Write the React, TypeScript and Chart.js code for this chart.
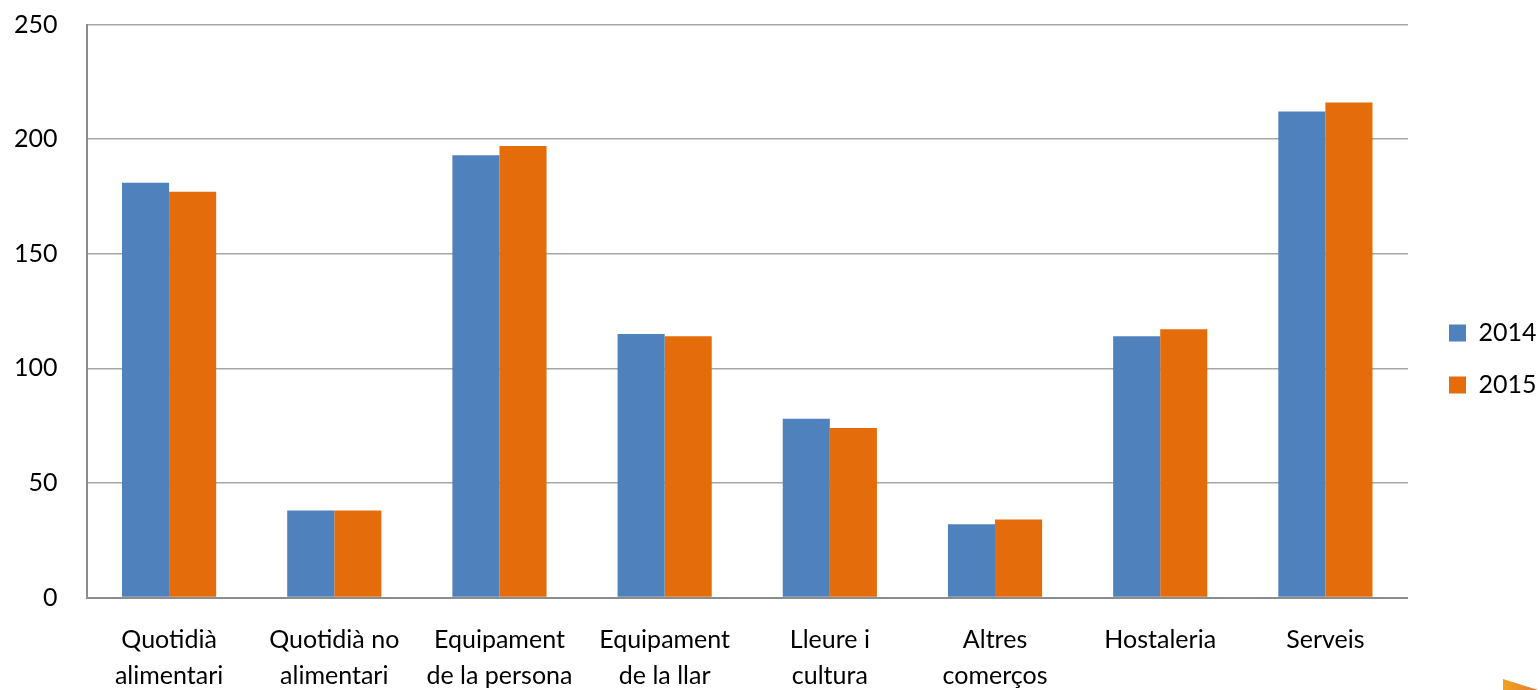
import React, { useEffect, useRef } from "react";
import { Chart, registerables } from "chart.js";

Chart.register(...registerables);

const categories: string[][] = [
  ["Quotidià", "alimentari"],
  ["Quotidià no", "alimentari"],
  ["Equipament", "de la persona"],
  ["Equipament", "de la llar"],
  ["Lleure i", "cultura"],
  ["Altres", "comerços"],
  ["Hostaleria"],
  ["Serveis"],
];
const values2014: number[] = [181, 38, 193, 115, 78, 32, 114, 212];
const values2015: number[] = [177, 38, 197, 114, 74, 34, 117, 216];
const seriesLabels = ["2014", "2015"];
const yTicks = { min: 0, max: 250, step: 50 };

const FONT = "Lato";

export default function App() {
  const ref = useRef<HTMLCanvasElement | null>(null);
  useEffect(() => {
    if (!ref.current) return;
    const chart = new Chart(ref.current, {
      type: "bar",
      data: {
        labels: categories,
        datasets: [
          {
            label: seriesLabels[0],
            data: values2014,
            backgroundColor: "#4f81bd",
            borderWidth: 0,
            categoryPercentage: 0.57,
            barPercentage: 1,
          },
          {
            label: seriesLabels[1],
            data: values2015,
            backgroundColor: "#e46c0a",
            borderWidth: 0,
            categoryPercentage: 0.57,
            barPercentage: 1,
          },
        ],
      },
      options: {
        animation: false,
        responsive: false,
        maintainAspectRatio: false,
        layout: { padding: { left: 10, top: 24.5, right: -8.5, bottom: -3.25 } },
        plugins: {
          tooltip: { enabled: false },
          legend: {
            position: "right",
            labels: {
              boxWidth: 17,
              boxHeight: 17,
              padding: 27,
              color: "#000",
              font: { family: FONT, size: 25 },
            },
          },
        },
        scales: {
          x: {
            grid: { display: false, drawTicks: true, tickLength: 24.75, tickColor: "transparent" },
            border: { display: true, color: "#8c8c8c", width: 2 },
            ticks: {
              color: "#000",
              font: { family: FONT, size: 25, lineHeight: 1.42 },
              padding: 0,
              maxRotation: 0,
              autoSkip: false,
            },
          },
          y: {
            min: yTicks.min,
            max: yTicks.max,
            grid: { color: "#a6a6a6", lineWidth: 1.5, drawTicks: true, tickLength: 25, tickColor: "transparent" },
            border: { display: true, color: "#8c8c8c", width: 2 },
            ticks: {
              stepSize: yTicks.step,
              color: "#000",
              font: { family: FONT, size: 25 },
              padding: 4,
            },
          },
          y2: {
            type: "linear",
            position: "right",
            display: true,
            grid: { display: false, drawTicks: false },
            ticks: { display: false },
            border: { display: false },
            afterFit: (s: any) => {
              s.width = 14;
            },
          },
        },
      },
    });
    return () => chart.destroy();
  }, []);
  return (
    <div style={{ position: "absolute", left: 0, top: 0, width: 1538, height: 690, overflow: "hidden", background: "#fff" }}>
      <canvas ref={ref} width={1538} height={690} style={{ display: "block", width: 1538, height: 690 }} />
      <div
        style={{
          position: "absolute",
          left: 1503,
          top: 679,
          width: 35,
          height: 11,
          background: "linear-gradient(90deg, #f2a21e, #e0793a)",
          clipPath: "polygon(0 0, 100% 100%, 0 100%)",
        }}
      />
    </div>
  );
}
